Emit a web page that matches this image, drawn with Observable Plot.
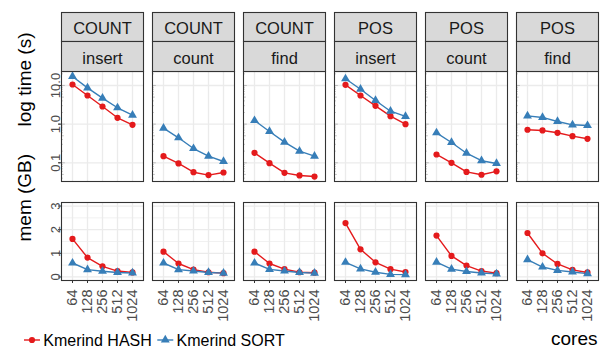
<!DOCTYPE html>
<html><head><meta charset="utf-8">
<script src="https://cdn.jsdelivr.net/npm/d3@7"></script>
<script src="https://cdn.jsdelivr.net/npm/@observablehq/plot@0.6"></script>
<style>
body{margin:0;background:#fff;}
#chart{position:relative;width:602px;height:348px;font-family:"Liberation Sans",Arial,sans-serif;overflow:hidden;background:#fff;}
#chart > *{position:absolute;left:0;}
</style></head><body><div id="chart"></div>
<script>
const groups = ["COUNT","COUNT","COUNT","POS","POS","POS"];
const ops = ["insert","count","find","insert","count","find"];
const cores = [64,128,256,512,1024];
const coreLabels = ["64","128","256","512","1024"];
const series = ["Kmerind HASH","Kmerind SORT"];
const seriesColors = ["#E41A1C","#377EB8"];
const timeTicks = [0.1,1,10];
const timeTickLabels = ["0.1","1.0","10.0"];
const memTicks = [0,1,2,3];
const memTickLabels = ["0","1","2","3"];
const memMinorTicks = [0.5,1.5,2.5];

// time (s), per panel, cores 64..1024
const timeHASH = [
 [10.6,5.5,2.86,1.46,0.96],
 [0.148,0.096,0.057,0.048,0.056],
 [0.181,0.098,0.055,0.047,0.044],
 [10.4,5.5,2.98,1.61,1.0],
 [0.164,0.1,0.058,0.049,0.06],
 [0.715,0.686,0.597,0.488,0.418]
];
const timeSORT = [
 [17.1,8.7,4.7,2.65,1.7],
 [0.785,0.443,0.234,0.148,0.108],
 [1.24,0.645,0.342,0.2,0.148],
 [14.9,8.0,4.1,2.16,1.58],
 [0.597,0.335,0.177,0.113,0.096],
 [1.64,1.49,1.17,0.96,0.92]
];
// mem (GB)
const memHASH = [
 [1.61,0.82,0.45,0.25,0.19],
 [1.07,0.57,0.31,0.2,0.16],
 [1.07,0.57,0.33,0.2,0.18],
 [2.28,1.17,0.62,0.33,0.21],
 [1.75,0.89,0.48,0.25,0.16],
 [1.86,1.0,0.55,0.3,0.19]
];
const memSORT = [
 [0.59,0.31,0.24,0.19,0.17],
 [0.59,0.31,0.25,0.19,0.16],
 [0.59,0.32,0.25,0.19,0.16],
 [0.62,0.34,0.2,0.11,0.1],
 [0.63,0.33,0.23,0.17,0.13],
 [0.73,0.42,0.28,0.21,0.14]
];

const keys = groups.map((g,i)=>g+" "+ops[i]);
const rows = [];
keys.forEach((k,i)=>{
  cores.forEach((c,j)=>{
    rows.push({key:k, cores:c, series:series[0], time:timeHASH[i][j], mem:memHASH[i][j]});
    rows.push({key:k, cores:c, series:series[1], time:timeSORT[i][j], mem:memSORT[i][j]});
  });
});
const hashRows = rows.filter(d=>d.series===series[0]);
const sortRows = rows.filter(d=>d.series===series[1]);
const strips = keys.map((k,i)=>({key:k, group:groups[i], op:ops[i]}));
const coreRows = cores.map((c,i)=>({c, s:coreLabels[i]}));

const W = 602, ML = 58, MR = 2, padIn = 0.1;
const step = (W-ML-MR)/(keys.length - padIn);
const bw = step*(1-padIn);

const timeDomain = [0.0328, 23];
const logMinor = [], logMid = [];
for (let e=-2; e<=1; e++) for (let k=2;k<=9;k++){
  const v = k*Math.pow(10,e);
  if (v>=timeDomain[0] && v<=timeDomain[1]) (k===5?logMid:logMinor).push(v);
}

const font = "Liberation Sans, Arial, sans-serif";
const gridC = "#EBEBEB", axC = "#333333", lblC = "#4D4D4D";
const color = {domain: series, range: seriesColors};
const fxScale = {domain: keys, axis: null, paddingInner: padIn, paddingOuter: 0};
const xScale = {type:"point", domain: cores, padding: 0.6, axis: null};

function dataMarks(yField){
  return [
    Plot.line(rows, {fx:"key", x:"cores", y:yField, z:"series", stroke:"series", strokeWidth:1.4}),
    Plot.dot(hashRows, {fx:"key", x:"cores", y:yField, fill:"series", r:3.1, symbol:"circle"}),
    Plot.dot(sortRows, {fx:"key", x:"cores", y:yField, fill:"series", r:3.3, symbol:"triangle"})
  ];
}
function yLabels(ticks, labels){
  return Plot.text(ticks.map((t,i)=>({key:keys[0], v:t, s:labels[i]})), {
    fx:"key", y:"v", text:"s", frameAnchor:"left", dx:-2, rotate:-90,
    textAnchor:"middle", lineAnchor:"bottom", fontSize:13, fill:lblC});
}
function yTitle(label){
  return Plot.text([{key:keys[0], label}], {fx:"key", text:"label", frameAnchor:"left",
    dx:-37, rotate:-90, lineAnchor:"middle", fontSize:19, fill:"#000"});
}

const topH = 185, topMT = 71, topMB = 4;
const topPlot = Plot.plot({
  width: W, height: topH, marginTop: topMT, marginBottom: topMB, marginLeft: ML, marginRight: MR,
  style: {fontFamily: font, background: "transparent", overflow: "visible"},
  fx: fxScale, x: xScale, color,
  y: {type:"log", domain: timeDomain, axis: null},
  marks: [
    Plot.gridX({stroke:gridC, strokeOpacity:1, strokeWidth:1.3}),
    Plot.gridY(timeTicks, {stroke:gridC, strokeOpacity:1, strokeWidth:1.3}),
    Plot.tickY(logMinor, {y:d=>d, stroke:"#9A9A9A", strokeWidth:0.6, insetRight: bw-2.5}),
    Plot.tickY(logMid, {y:d=>d, stroke:"#9A9A9A", strokeWidth:0.6, insetRight: bw-3.5}),
    Plot.tickY(timeTicks, {y:d=>d, stroke:"#9A9A9A", strokeWidth:0.6, insetRight: bw-4.5}),
    ...dataMarks("time"),
    Plot.frame({stroke:axC, strokeWidth:1.1}),
    Plot.frame({fill:"#D9D9D9", stroke:axC, strokeWidth:1.1, insetTop:-59, insetBottom:140}),
    Plot.frame({fill:"#D9D9D9", stroke:axC, strokeWidth:1.1, insetTop:-30, insetBottom:110}),
    Plot.text(strips, {fx:"key", text:"group", frameAnchor:"top", dy:-37.7, lineAnchor:"bottom", fontSize:16.5, fill:"#1A1A1A"}),
    Plot.text(strips, {fx:"key", text:"op", frameAnchor:"top", dy:-7.7, lineAnchor:"bottom", fontSize:16.5, fill:"#1A1A1A"}),
    Plot.axisY(timeTicks, {tickSize:3, tickFormat:()=>"", label:null, stroke:axC}),
    yLabels(timeTicks, timeTickLabels),
    yTitle("log time (s)")
  ]
});

const botH = 163, botMT = 17, botMB = 68;
const bottomPlot = Plot.plot({
  width: W, height: botH, marginTop: botMT, marginBottom: botMB, marginLeft: ML, marginRight: MR,
  style: {fontFamily: font, background: "transparent", overflow: "visible"},
  fx: fxScale, x: xScale, color,
  y: {domain: [-0.15, 3.15], axis: null},
  marks: [
    Plot.gridX({stroke:gridC, strokeOpacity:1, strokeWidth:1.3}),
    Plot.gridY(memMinorTicks, {stroke:gridC, strokeOpacity:1, strokeWidth:0.7}),
    Plot.gridY(memTicks, {stroke:gridC, strokeOpacity:1, strokeWidth:1.3}),
    ...dataMarks("mem"),
    Plot.frame({stroke:axC, strokeWidth:1.1}),
    Plot.axisY(memTicks, {tickSize:3, tickFormat:()=>"", label:null, stroke:axC}),
    yLabels(memTicks, memTickLabels),
    yTitle("mem (GB)"),
    Plot.axisX(cores, {tickSize:3, tickFormat:()=>"", label:null, stroke:axC}),
    Plot.text(coreRows, {x:"c", text:"s", frameAnchor:"bottom", dy:9, rotate:-90, textAnchor:"end", lineAnchor:"middle", fontSize:14.5, fill:lblC}),
    Plot.text([{key:keys[keys.length-1], label:"cores"}], {fx:"key", text:"label", frameAnchor:"bottom-right", dx:-1, dy:64, textAnchor:"end", lineAnchor:"bottom", fontSize:19, fill:"#000"})
  ]
});

const chart = document.getElementById("chart");
topPlot.style.top = "0px";
bottomPlot.style.top = topH + "px";
chart.appendChild(topPlot);
chart.appendChild(bottomPlot);

// legend
const leg = d3.select(chart).append("svg").attr("width", W).attr("height", 20)
  .style("top", "328px").style("font-family", font);
let lx = 24;
const symbols = [d3.symbolCircle, d3.symbolTriangle];
const radii = [3.1, 3.3];
series.forEach((s,i)=>{
  const g = leg.append("g");
  g.append("line").attr("x1", lx).attr("x2", lx+16).attr("y1", 12).attr("y2", 12)
    .attr("stroke", seriesColors[i]).attr("stroke-width", 1.4);
  g.append("path").attr("d", d3.symbol(symbols[i], Math.PI*radii[i]*radii[i])())
    .attr("transform", `translate(${lx+8},12)`).attr("fill", seriesColors[i]);
  const t = g.append("text").attr("x", lx+19.3).attr("y", 17.5).attr("font-size", 16).attr("fill", "#000").text(s);
  lx = lx + 19.3 + t.node().getComputedTextLength() + 5.5;
});
</script></body></html>
